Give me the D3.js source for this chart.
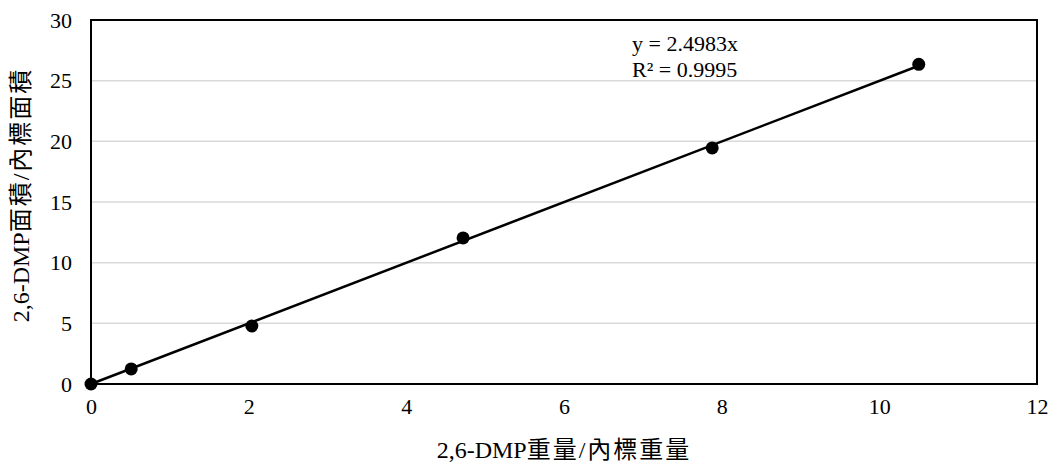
<!DOCTYPE html>
<html><head><meta charset="utf-8">
<script src="https://cdn.jsdelivr.net/npm/d3@7"></script>
<style>body{margin:0;background:#fff}svg{display:block}</style>
</head><body><svg id="c" width="1054" height="464"></svg>
<script>
const xValues = [0, 0.51, 2.04, 4.72, 7.88, 10.5];
const yValues = [0, 1.24, 4.78, 12.04, 19.46, 26.35];
const slope = 2.4983;
const xTicks = [0, 2, 4, 6, 8, 10, 12];
const yTicks = [0, 5, 10, 15, 20, 25, 30];
const xTitleParts = ["2,6-DMP", "重量/內標重量"];
const yTitleParts = ["2,6-DMP", "面積/內標面積"];
const eqLines = ["y = 2.4983x", "R² = 0.9995"];

const svg = d3.select("#c");
const L = 91, R = 1037, T = 20, B = 384;
const x = d3.scaleLinear().domain([0, 12]).range([L, R]);
const y = d3.scaleLinear().domain([0, 30]).range([B, T]);
const font = "'Liberation Serif','Times New Roman','Noto Sans CJK TC',serif";

// gridlines
svg.append("g").selectAll("line").data(yTicks.filter(d => d > 0 && d < 30)).join("line")
  .attr("x1", L).attr("x2", R).attr("y1", d => y(d)).attr("y2", d => y(d))
  .attr("stroke", "#d9d9d9").attr("stroke-width", 1.5);

// axes
const xAxis = svg.append("g").attr("transform", `translate(0,${B})`)
  .call(d3.axisBottom(x).tickValues(xTicks).tickSize(0).tickPadding(14).tickFormat(d3.format("d")));
const yAxis = svg.append("g").attr("transform", `translate(${L},0)`)
  .call(d3.axisLeft(y).tickValues(yTicks).tickSize(0).tickPadding(19).tickFormat(d3.format("d")));
[xAxis, yAxis].forEach(g => {
  g.select(".domain").remove();
  g.selectAll("text").attr("font-family", font).attr("font-size", 22).attr("fill", "#000");
});

// border
svg.append("rect").attr("x", L).attr("y", T).attr("width", R - L).attr("height", B - T)
  .attr("fill", "none").attr("stroke", "#000").attr("stroke-width", 2);

// trendline
const xmax = d3.max(xValues);
svg.append("line").attr("x1", x(0)).attr("y1", y(0)).attr("x2", x(xmax)).attr("y2", y(slope * xmax))
  .attr("stroke", "#000").attr("stroke-width", 2.5);

// points
svg.append("g").selectAll("circle").data(xValues.map((v, i) => [v, yValues[i]])).join("circle")
  .attr("cx", d => x(d[0])).attr("cy", d => y(d[1])).attr("r", 6.5).attr("fill", "#000");

// equation
svg.append("g").selectAll("text").data(eqLines).join("text")
  .attr("x", 632).attr("y", (d, i) => 51 + i * 26)
  .attr("font-family", font).attr("font-size", 22).text(d => d);

// titles
function title(parts, sel) {
  sel.attr("text-anchor", "middle").attr("font-family", font).attr("font-size", 24);
  sel.append("tspan").text(parts[0]);
  sel.append("tspan").attr("letter-spacing", 2).text(parts[1]);
}
title(xTitleParts, svg.append("text").attr("x", (L + R) / 2).attr("y", 458));
title(yTitleParts, svg.append("text").attr("transform", `translate(29,195) rotate(-90)`));
</script></body></html>
